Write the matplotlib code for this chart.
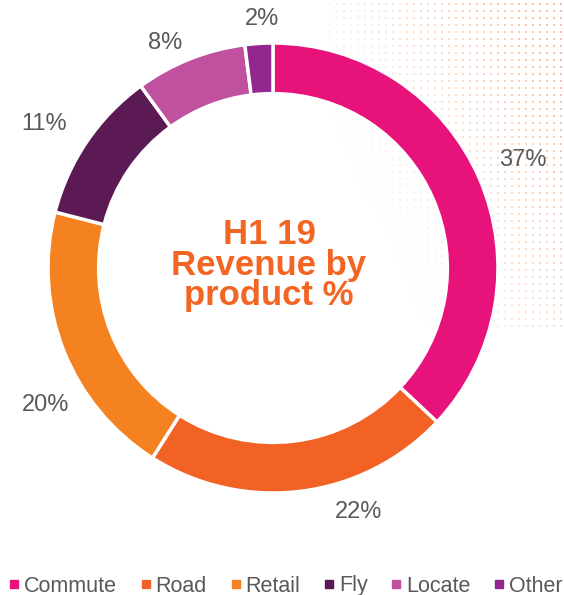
import numpy as np
import matplotlib
matplotlib.use("Agg")
import matplotlib.pyplot as plt
from matplotlib.lines import Line2D

plt.rcParams['font.family'] = ['Liberation Sans', 'DejaVu Sans']

categories = ["Commute", "Road", "Retail", "Fly", "Locate", "Other"]
values = [37, 22, 20, 11, 8, 2]
labels = ["37%", "22%", "20%", "11%", "8%", "2%"]
colors = ["#E8137A", "#F26224", "#F58220", "#5C1A55", "#C0519E", "#93278F"]
center_title = "H1 19\nRevenue by\nproduct %"

W, H = 564, 595
fig = plt.figure(figsize=(W / 100, H / 100), dpi=100)

# decorative dotted background (top-right)
bg = fig.add_axes([0, 0, 1, 1])
bg.set_xlim(0, W)
bg.set_ylim(H, 0)
bg.axis('off')
gx, gy = np.meshgrid(np.arange(330, W, 7.0), np.arange(4, 330, 7.0))
strength = np.clip(((gx - 330) / (W - 330)) * 0.9 + (1 - gy / 330) * 0.6 - 0.35, 0, 1)
mask = strength > 0.02
rgba = np.zeros((mask.sum(), 4))
rgba[:, 0], rgba[:, 1], rgba[:, 2] = 0.95, 0.45, 0.15
rgba[:, 3] = strength[mask] * 0.7
bg.scatter(gx[mask], gy[mask], s=1.6, c=rgba, linewidths=0)

# donut
cx, cy, R = 273, 268, 225
ax = fig.add_axes([0, 0, 1, 1])
ax.patch.set_alpha(0)

wedges, _ = ax.pie(values, colors=colors, startangle=90, counterclock=False,
                   radius=1.0, wedgeprops=dict(width=0.225, edgecolor='white', linewidth=2.5))
ax.set_aspect('auto')
ax.set_xlim(-cx / R, (W - cx) / R)
ax.set_ylim(-(H - cy) / R, cy / R)
ax.axis('off')

label_dist = [1.21, 1.15, 1.18, 1.2, 1.11, 1.11]
label_shift = [0, 12, 9.5, 2, 4, -1]  # angular fine-tuning in degrees
for w, lab, d, s in zip(wedges, labels, label_dist, label_shift):
    ang = np.deg2rad((w.theta1 + w.theta2) / 2 + s)
    ax.text(d * np.cos(ang), d * np.sin(ang), lab, ha='center', va='center',
            fontsize=17, color='#595959')

ax.text(-4 / R, (cy - 265) / R, center_title, ha='center', va='center',
        fontsize=25, fontweight='bold', color='#F26522', linespacing=0.92)

handles = [Line2D([0], [0], marker='s', linestyle='none', markersize=6,
                  markerfacecolor=c, markeredgecolor=c) for c in colors]
fig.legend(handles, categories, loc='center', bbox_to_anchor=(286 / W, 9 / H),
           ncol=6, frameon=False, fontsize=15.5, handlelength=0.47, handletextpad=0.22,
           columnspacing=1.1, labelcolor='#595959', borderaxespad=0, borderpad=0)

fig.savefig("out.png", dpi=100)
